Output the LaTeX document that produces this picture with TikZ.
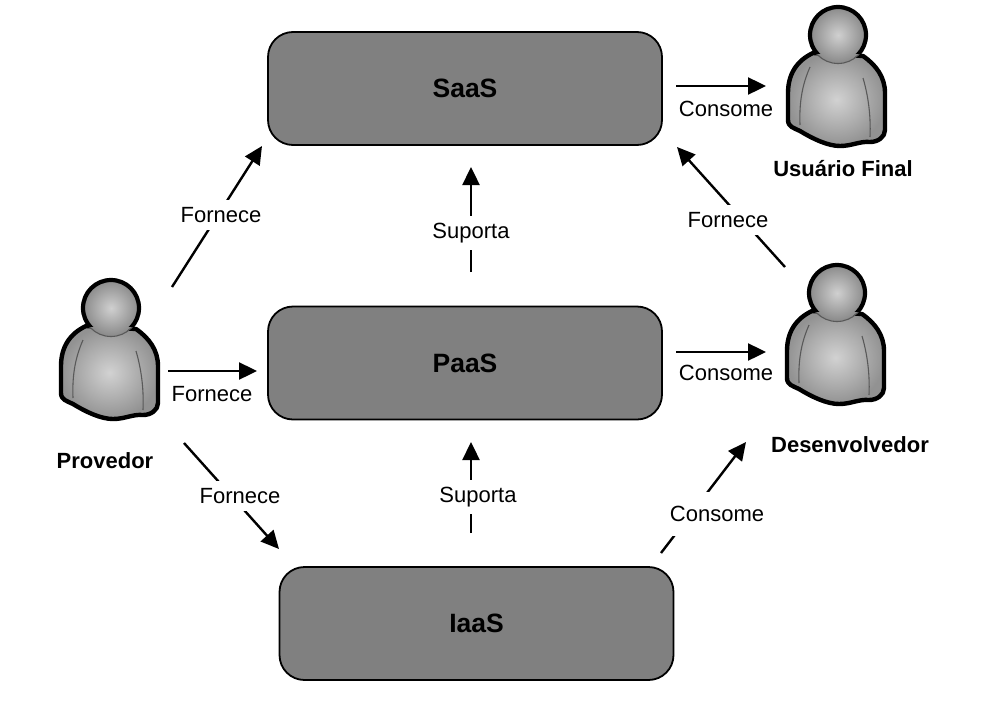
\documentclass[tikz,border=0pt]{standalone}
\usepackage{fontspec}
\setmainfont{Liberation Sans}
\usetikzlibrary{arrows.meta}
\definecolor{layergray}{HTML}{808080}
\definecolor{bodyin}{HTML}{D2D2D2}
\definecolor{bodyout}{HTML}{929292}
\definecolor{headin}{HTML}{D0D0D0}
\definecolor{headout}{HTML}{8A8A8A}
\tikzset{
  layer/.style={draw=black, line width=1.8pt, fill=layergray, rounded corners=25pt,
    minimum width=394pt, minimum height=113pt, inner sep=0pt,
    font=\fontsize{26.5}{30}\selectfont\bfseries},
  flow/.style={line width=2.4pt, -{Triangle[length=18pt,width=17pt]}},
  flowlabel/.style={font=\fontsize{22}{26}\selectfont, inner sep=1.5pt},
  gaplabel/.style={flowlabel, fill=white, inner xsep=1.5pt, inner ysep=#1},
  gaplabel/.default=7pt,
  actorname/.style={font=\fontsize{22}{26}\selectfont\bfseries, inner sep=0pt},
  personline/.style={draw=black!65, line width=1.1pt},
  person/.pic={
    % torso
    \shade[inner color=bodyin, outer color=bodyout, draw=black, line width=4.4pt, line join=round]
      (-25,18) .. controls (-42,26) and (-50,40) .. (-50,58)
      -- (-50,85) .. controls (-50,92) and (-44,93) .. (-38,96)
      .. controls (-25,104) and (-10,111) .. (2,111)
      .. controls (14,111) and (22,106) .. (32,107)
      .. controls (40,107) and (47,102) .. (47,95)
      -- (47,58) .. controls (47,42) and (38,30) .. (25,21) -- cycle;
    \draw[personline] (-28,32) .. controls (-35,48) and (-39,65) .. (-38,90);
    \draw[personline] (25,43) .. controls (30,60) and (33,80) .. (32,102);
    % head: heavy outline above the shoulders, thin below
    \shade[inner color=headin, outer color=headout] (0,0) circle[radius=28];
    \draw[personline] (0,0) circle[radius=28.5];
    \begin{scope}
      \clip (-40,-40) rectangle (40,18);
      \draw[black, line width=4.2pt] (0,0) circle[radius=28];
    \end{scope}
  },
}
\begin{document}
\begin{tikzpicture}[x=1pt,y=-1pt]
  \useasboundingbox (0,0) rectangle (984,720);
  \fill[white] (0,0) rectangle (984,720);

  % service layers
  \node[layer] (saas) at (465,88.5) {SaaS};
  \node[layer] (paas) at (465,363) {PaaS};
  \node[layer] (iaas) at (476.5,623.5) {IaaS};

  % actors
  \pic at (111,308) {person};
  \pic at (838,35) {person};
  \pic at (837,293) {person};
  \node[actorname] (provedor) at (105,461) {Provedor};
  \node[actorname] (usuario) at (843,169) {Usuário Final};
  \node[actorname] (desenv) at (850,445) {Desenvolvedor};

  % connector end points
  \coordinate (p1a) at (172,287);   \coordinate (p1b) at (262,146);
  \coordinate (p2a) at (168,371);   \coordinate (p2b) at (257,371);
  \coordinate (p3a) at (184,443);   \coordinate (p3b) at (279,549);
  \coordinate (s1a) at (471,272);   \coordinate (s1b) at (471,167);
  \coordinate (s2a) at (471,533);   \coordinate (s2b) at (471,442);
  \coordinate (c1a) at (676,86);    \coordinate (c1b) at (766,86);
  \coordinate (c2a) at (676,352);   \coordinate (c2b) at (766,352);
  \coordinate (c3a) at (661,553);   \coordinate (c3b) at (746,442);
  \coordinate (f4a) at (785,267);   \coordinate (f4b) at (677,147);

  % connectors; those running through a label are broken by it
  \draw[flow] (p1a) -- (p1b);
  \node[gaplabel] (lp1) at (221,215) {Fornece};
  \draw[flow] (p2a) -- (p2b);
  \node[flowlabel] (lp2) at (212,394) {Fornece};
  \draw[flow] (p3a) -- (p3b);
  \node[gaplabel] (lp3) at (240,496) {Fornece};
  \draw[flow] (s1a) -- (s1b);
  \node[gaplabel] (ls1) at (471,233) {Suporta};
  \draw[flow] (s2a) -- (s2b);
  \node[gaplabel] (ls2) at (478,497) {Suporta};
  \draw[flow] (c1a) -- (c1b);
  \node[flowlabel] (lc1) at (726,109) {Consome};
  \draw[flow] (c2a) -- (c2b);
  \node[flowlabel] (lc2) at (726,373) {Consome};
  \draw[flow] (c3a) -- (c3b);
  \node[gaplabel=14pt] (lc3) at (717,514) {Consome};
  \draw[flow] (f4a) -- (f4b);
  \node[gaplabel] (lf4) at (728,220) {Fornece};
\end{tikzpicture}
\end{document}
